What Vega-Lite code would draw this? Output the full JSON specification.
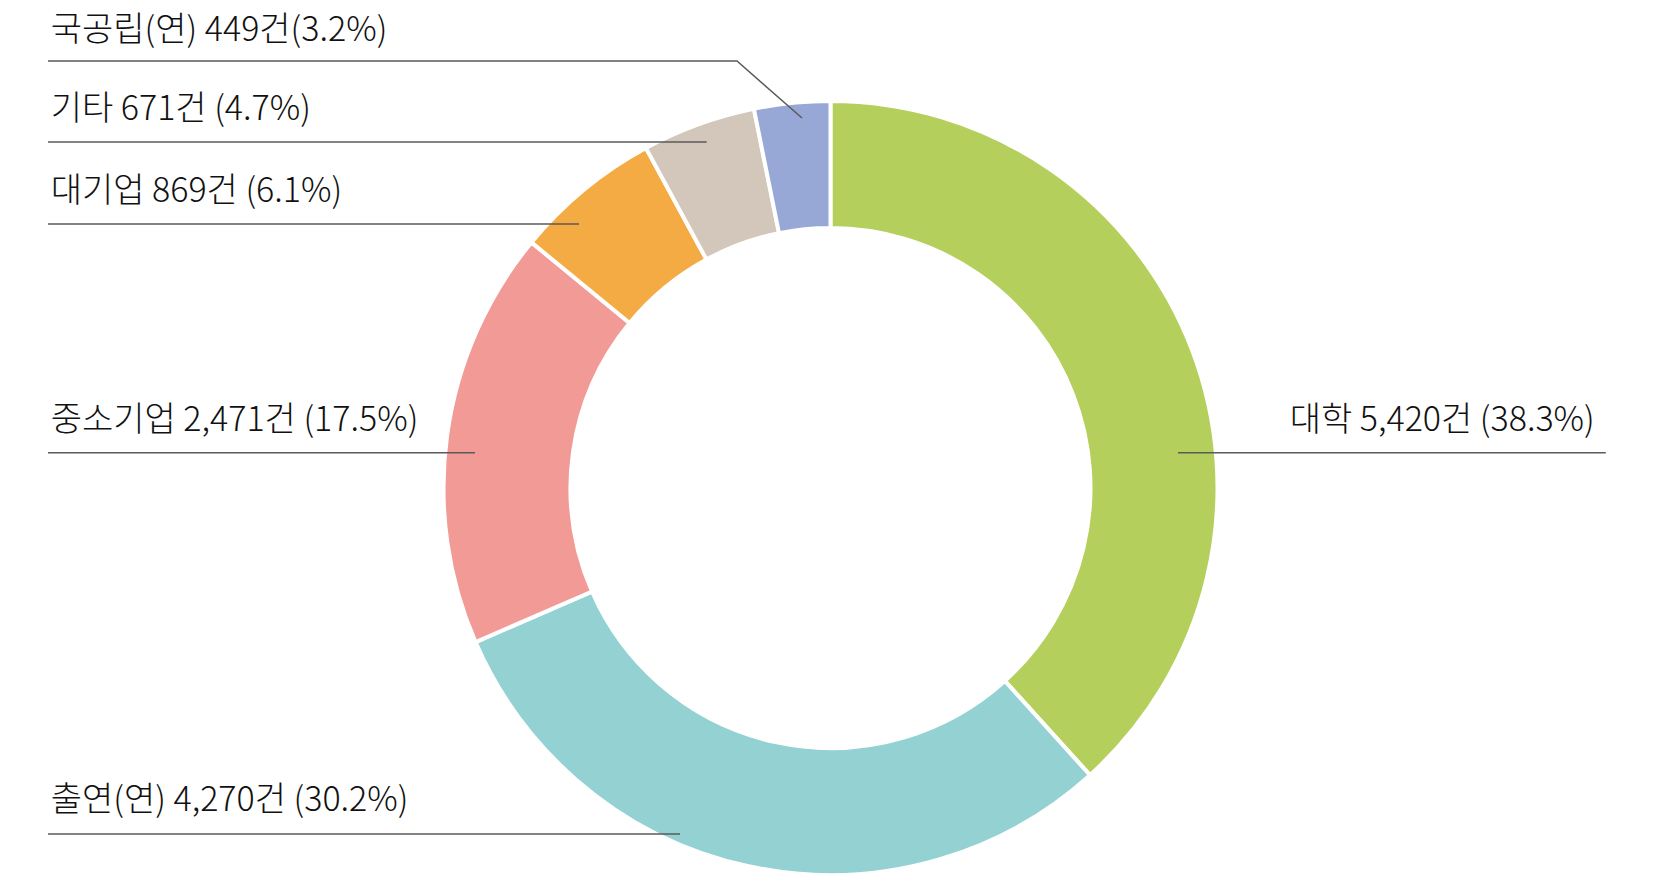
{
  "$schema": "https://vega.github.io/schema/vega-lite/v6.json",
  "width": 1647,
  "height": 788,
  "autosize": "none",
  "padding": {"left": 7, "top": 94, "right": 0, "bottom": 0},
  "background": "white",
  "config": {"view": {"stroke": null}},
  "datasets": {
    "shares": [
      {"category": "대학", "count": 5420, "percent": 38.3},
      {"category": "출연(연)", "count": 4270, "percent": 30.2},
      {"category": "중소기업", "count": 2471, "percent": 17.5},
      {"category": "대기업", "count": 869, "percent": 6.1},
      {"category": "기타", "count": 671, "percent": 4.7},
      {"category": "국공립(연)", "count": 449, "percent": 3.2}
    ],
    "labels": [
      {"category": "국공립(연)", "label": "국공립(연) 449건(3.2%)", "x": -2.015, "y": 1.180, "side": "left"},
      {"category": "기타", "label": "기타 671건 (4.7%)", "x": -2.015, "y": 0.978, "side": "left"},
      {"category": "대기업", "label": "대기업 869건 (6.1%)", "x": -2.015, "y": 0.765, "side": "left"},
      {"category": "중소기업", "label": "중소기업 2,471건 (17.5%)", "x": -2.015, "y": 0.174, "side": "left"},
      {"category": "대학", "label": "대학 5,420건 (38.3%)", "x": 1.975, "y": 0.174, "side": "right"},
      {"category": "출연(연)", "label": "출연(연) 4,270건 (30.2%)", "x": -2.015, "y": -0.808, "side": "left"}
    ],
    "leaders": [
      {"category": "국공립(연)", "step": 1, "x": -2.022, "y": 1.1034},
      {"category": "국공립(연)", "step": 2, "x": -0.2416, "y": 1.1034},
      {"category": "국공립(연)", "step": 3, "x": -0.0736, "y": 0.9561},
      {"category": "기타", "step": 1, "x": -2.022, "y": 0.8941},
      {"category": "기타", "step": 2, "x": -0.3199, "y": 0.8941},
      {"category": "대기업", "step": 1, "x": -2.022, "y": 0.6822},
      {"category": "대기업", "step": 2, "x": -0.6499, "y": 0.6822},
      {"category": "중소기업", "step": 1, "x": -2.022, "y": 0.0912},
      {"category": "중소기업", "step": 2, "x": -0.9186, "y": 0.0912},
      {"category": "대학", "step": 1, "x": 0.8979, "y": 0.0912},
      {"category": "대학", "step": 2, "x": 2.0033, "y": 0.0912},
      {"category": "출연(연)", "step": 1, "x": -2.022, "y": -0.8941},
      {"category": "출연(연)", "step": 2, "x": -0.3889, "y": -0.8941}
    ]
  },
  "layer": [
    {
      "data": {"name": "shares"},
      "mark": {"type": "arc", "innerRadius": 260, "outerRadius": 387, "stroke": "white", "strokeWidth": 4},
      "encoding": {
        "theta": {"field": "count", "type": "quantitative", "stack": true},
        "order": {"field": "count", "type": "quantitative", "sort": "descending"},
        "color": {
          "field": "category",
          "type": "nominal",
          "legend": null,
          "scale": {
            "domain": ["대학", "출연(연)", "중소기업", "대기업", "기타", "국공립(연)"],
            "range": ["#b5cf5c", "#93d1d3", "#f29a96", "#f5ab43", "#d2c7ba", "#98a8d6"]
          }
        }
      }
    },
    {
      "data": {"name": "leaders"},
      "mark": {"type": "line", "stroke": "#5a5a5a", "strokeWidth": 1.5, "clip": false},
      "encoding": {
        "x": {"field": "x", "type": "quantitative", "axis": null, "scale": {"domain": [-2.1279, 2.1279], "nice": false, "zero": false}},
        "y": {"field": "y", "type": "quantitative", "axis": null, "scale": {"domain": [-1.01809, 1.01809], "nice": false, "zero": false}},
        "detail": {"field": "category", "type": "nominal"},
        "order": {"field": "step", "type": "quantitative"}
      }
    },
    {
      "data": {"name": "labels"},
      "transform": [{"filter": "datum.side === 'left'"}],
      "mark": {"type": "text", "align": "left", "baseline": "middle", "font": "Noto Sans CJK KR", "fontSize": 34, "fontWeight": 300, "color": "#111111", "clip": false},
      "encoding": {
        "x": {"field": "x", "type": "quantitative", "axis": null, "scale": {"domain": [-2.1279, 2.1279], "nice": false, "zero": false}},
        "y": {"field": "y", "type": "quantitative", "axis": null, "scale": {"domain": [-1.01809, 1.01809], "nice": false, "zero": false}},
        "text": {"field": "label", "type": "nominal"}
      }
    },
    {
      "data": {"name": "labels"},
      "transform": [{"filter": "datum.side === 'right'"}],
      "mark": {"type": "text", "align": "right", "baseline": "middle", "font": "Noto Sans CJK KR", "fontSize": 34, "fontWeight": 300, "color": "#111111", "clip": false},
      "encoding": {
        "x": {"field": "x", "type": "quantitative", "axis": null, "scale": {"domain": [-2.1279, 2.1279], "nice": false, "zero": false}},
        "y": {"field": "y", "type": "quantitative", "axis": null, "scale": {"domain": [-1.01809, 1.01809], "nice": false, "zero": false}},
        "text": {"field": "label", "type": "nominal"}
      }
    }
  ]
}
